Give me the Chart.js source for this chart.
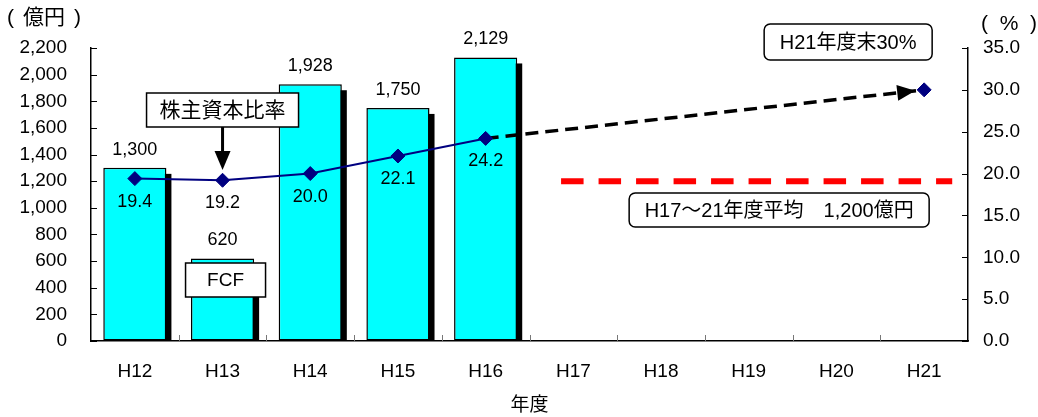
<!DOCTYPE html>
<html>
<head>
<meta charset="utf-8">
<script src="https://cdn.jsdelivr.net/npm/chart.js@4/dist/chart.umd.min.js"></script>
<style>
  html, body { margin: 0; padding: 0; background: #ffffff; }
  canvas { display: block; }
</style>
</head>
<body>
<canvas id="chart" width="1038" height="417"></canvas>
<script>
// Fiscal years (Heisei)
const years = ['H12', 'H13', 'H14', 'H15', 'H16', 'H17', 'H18', 'H19', 'H20', 'H21'];
// Free cash flow, 100 million yen
const fcf = [1300, 620, 1928, 1750, 2129, null, null, null, null, null];
// Shareholders' equity ratio, %
const equityRatio = [19.4, 19.2, 20.0, 22.1, 24.2, null, null, null, null, null];
// Target path toward the H21 year-end goal
const ratioPath = [null, null, null, null, 24.2, null, null, null, null, 30.0];
const ratioTarget = [null, null, null, null, null, null, null, null, null, 30.0];
// Planned H17-21 average FCF, 100 million yen
const fcfPlanAverage = 1200;
// Axis ticks
const leftTicks = [0, 200, 400, 600, 800, 1000, 1200, 1400, 1600, 1800, 2000, 2200];
const rightTicks = [0, 5, 10, 15, 20, 25, 30, 35];

const FONT = "'Liberation Sans', Arial, 'Noto Sans CJK JP', sans-serif";
Chart.defaults.font.family = FONT;
Chart.defaults.color = '#000';

const NAVY = '#000080';

function roundRect(ctx, x, y, w, h, r) {
  ctx.beginPath();
  ctx.moveTo(x + r, y);
  ctx.lineTo(x + w - r, y);
  ctx.arcTo(x + w, y, x + w, y + r, r);
  ctx.lineTo(x + w, y + h - r);
  ctx.arcTo(x + w, y + h, x + w - r, y + h, r);
  ctx.lineTo(x + r, y + h);
  ctx.arcTo(x, y + h, x, y + h - r, r);
  ctx.lineTo(x, y + r);
  ctx.arcTo(x, y, x + r, y, r);
  ctx.closePath();
}

function textBox(ctx, text, x, y, w, h, radius, size) {
  ctx.save();
  if (radius > 0) roundRect(ctx, x, y, w, h, radius);
  else { ctx.beginPath(); ctx.rect(x, y, w, h); }
  ctx.fillStyle = '#fff';
  ctx.fill();
  ctx.lineWidth = 1.5;
  ctx.strokeStyle = '#000';
  ctx.stroke();
  ctx.fillStyle = '#000';
  ctx.font = size + 'px ' + FONT;
  ctx.textAlign = 'center';
  ctx.textBaseline = 'middle';
  ctx.fillText(text, x + w / 2, y + h / 2 + 1);
  ctx.restore();
}

// Black drop shadow behind each bar
const barShadow = {
  id: 'barShadow',
  beforeDatasetsDraw(chart) {
    const { ctx, chartArea } = chart;
    const meta = chart.getDatasetMeta(0);
    ctx.save();
    ctx.beginPath();
    ctx.rect(chartArea.left, chartArea.top, chartArea.right - chartArea.left, chartArea.bottom - chartArea.top);
    ctx.clip();
    ctx.fillStyle = '#000';
    meta.data.forEach((el, i) => {
      if (fcf[i] == null) return;
      const p = el.getProps(['x', 'y', 'base', 'width'], true);
      ctx.fillRect(p.x - p.width / 2 + 5, p.y + 6, p.width, p.base - p.y - 6);
    });
    ctx.restore();
  }
};

// Tick marks drawn inward from each axis line
const innerTicks = {
  id: 'innerTicks',
  afterDraw(chart) {
    const { ctx, chartArea, scales } = chart;
    ctx.save();
    ctx.strokeStyle = '#000';
    ctx.lineWidth = 1;
    ctx.beginPath();
    leftTicks.forEach(v => {
      const y = Math.round(scales.y.getPixelForValue(v)) + 0.5;
      ctx.moveTo(chartArea.left, y); ctx.lineTo(chartArea.left + 6, y);
    });
    rightTicks.forEach(v => {
      const y = Math.round(scales.y1.getPixelForValue(v)) + 0.5;
      ctx.moveTo(chartArea.right - 6, y); ctx.lineTo(chartArea.right, y);
    });
    ctx.stroke();
    ctx.strokeStyle = '#777';
    ctx.beginPath();
    const cw = scales.x.getPixelForValue(1) - scales.x.getPixelForValue(0);
    for (let i = 1; i < years.length; i++) {
      const x = Math.round(scales.x.getPixelForValue(i) - cw / 2) + 0.5;
      ctx.moveTo(x, chartArea.bottom); ctx.lineTo(x, chartArea.bottom - 6);
    }
    ctx.stroke();
    ctx.restore();
  }
};

// Value labels, plan line, arrows and callouts
const annotations = {
  id: 'annotations',
  afterDatasetsDraw(chart) {
    const { ctx, chartArea, scales } = chart;
    const xs = scales.x, yl = scales.y;
    const cw = xs.getPixelForValue(1) - xs.getPixelForValue(0);
    ctx.save();

    // planned average FCF (dashed red)
    const yPlan = yl.getPixelForValue(fcfPlanAverage);
    ctx.strokeStyle = '#ff0000';
    ctx.lineWidth = 6;
    ctx.setLineDash([22.5, 15]);
    ctx.beginPath();
    ctx.moveTo(xs.getPixelForValue(5) - cw * 0.14, yPlan);
    ctx.lineTo(xs.getPixelForValue(9) + cw * 0.32, yPlan);
    ctx.stroke();
    ctx.setLineDash([]);

    // arrow head on the target path
    const pm = chart.getDatasetMeta(2).data;
    const a = pm[4].getProps(['x', 'y'], true), b = pm[9].getProps(['x', 'y'], true);
    const dx = b.x - a.x, dy = b.y - a.y, len = Math.hypot(dx, dy);
    const ux = dx / len, uy = dy / len;
    const tx = b.x - ux * 9, ty = b.y - uy * 9;
    const bx = tx - ux * 18, by = ty - uy * 18;
    ctx.fillStyle = '#000';
    ctx.beginPath();
    ctx.moveTo(tx, ty);
    ctx.lineTo(bx - uy * 8, by + ux * 8);
    ctx.lineTo(bx + uy * 8, by - ux * 8);
    ctx.closePath();
    ctx.fill();

    // bar values
    ctx.font = '18px ' + FONT;
    ctx.textAlign = 'center';
    ctx.textBaseline = 'middle';
    ctx.fillStyle = '#000';
    chart.getDatasetMeta(0).data.forEach((el, i) => {
      if (fcf[i] == null) return;
      const p = el.getProps(['x', 'y'], true);
      ctx.fillText(fcf[i].toLocaleString('en-US'), p.x, p.y - 18);
    });
    // ratio values
    chart.getDatasetMeta(1).data.forEach((el, i) => {
      if (equityRatio[i] == null) return;
      const p = el.getProps(['x', 'y'], true);
      ctx.fillText(equityRatio[i].toFixed(1), p.x, p.y + 23);
    });

    // unit labels
    ctx.font = '21px ' + FONT;
    ctx.textAlign = 'left';
    ctx.fillText('(', 7, 18);
    ctx.fillText('億円', 23, 18);
    ctx.fillText(')', 74, 18);
    ctx.fillText('(', 981, 24);
    ctx.textAlign = 'center';
    ctx.fillText('%', 1009, 24);
    ctx.textAlign = 'left';
    ctx.fillText(')', 1030, 24);

    // callout: shareholders' equity ratio with down arrow
    const x13 = xs.getPixelForValue(1);
    textBox(ctx, '株主資本比率', x13 - 76, chartArea.top + 45, 152, 34, 0, 21);
    ctx.fillStyle = '#000';
    ctx.fillRect(x13 - 1.5, chartArea.top + 79, 3, 26);
    ctx.beginPath();
    ctx.moveTo(x13 - 8, chartArea.top + 103);
    ctx.lineTo(x13 + 8, chartArea.top + 103);
    ctx.lineTo(x13, chartArea.top + 122);
    ctx.closePath();
    ctx.fill();

    // callout: FCF
    textBox(ctx, 'FCF', x13 - 37, chartArea.top + 215, 80, 34, 0, 19);

    // callouts on the plan side
    const x21 = xs.getPixelForValue(9);
    textBox(ctx, 'H21年度末30%', x21 - 160, 24, 168, 36, 6, 20);
    textBox(ctx, 'H17～21年度平均　1,200億円', x21 - 295, chartArea.top + 145, 300, 34, 6, 20);

    ctx.restore();
  }
};

new Chart(document.getElementById('chart'), {
  type: 'bar',
  data: {
    labels: years,
    datasets: [
      {
        type: 'bar',
        label: 'FCF',
        data: fcf,
        yAxisID: 'y',
        backgroundColor: '#00ffff',
        borderColor: '#000',
        borderWidth: 1.5,
        borderSkipped: false,
        barPercentage: 0.72,
        categoryPercentage: 1,
        order: 4
      },
      {
        type: 'line',
        label: '株主資本比率',
        data: equityRatio,
        yAxisID: 'y1',
        borderColor: NAVY,
        borderWidth: 2,
        pointStyle: 'rectRot',
        pointRadius: 7,
        pointBackgroundColor: NAVY,
        pointBorderColor: NAVY,
        pointBorderWidth: 1,
        spanGaps: false,
        tension: 0,
        order: 2
      },
      {
        type: 'line',
        label: '目標',
        data: ratioPath,
        yAxisID: 'y1',
        borderColor: '#000',
        borderWidth: 3.5,
        borderDash: [13, 7],
        pointRadius: 0,
        spanGaps: true,
        tension: 0,
        order: 3
      },
      {
        type: 'line',
        label: 'H21年度末',
        data: ratioTarget,
        yAxisID: 'y1',
        showLine: false,
        pointStyle: 'rectRot',
        pointRadius: 7,
        pointBackgroundColor: NAVY,
        pointBorderColor: NAVY,
        pointBorderWidth: 1,
        order: 1
      }
    ]
  },
  options: {
    responsive: false,
    animation: false,
    devicePixelRatio: 1,
    layout: { padding: { top: 48, left: 0, right: 0, bottom: 0 } },
    plugins: {
      legend: { display: false },
      tooltip: { enabled: false }
    },
    scales: {
      x: {
        type: 'category',
        offset: true,
        grid: { drawOnChartArea: false, drawTicks: false },
        border: { display: true, color: '#000', width: 1.5 },
        ticks: { font: { size: 19 }, padding: 19, maxRotation: 0, autoSkip: false, color: '#000' },
        title: { display: true, text: '年度', font: { size: 19, family: FONT }, color: '#000', padding: { top: 0, bottom: 0 } },
        afterFit(s) { s.height = 76; }
      },
      y: {
        position: 'left',
        min: 0,
        max: 2200,
        grid: { drawOnChartArea: false, drawTicks: false },
        border: { display: true, color: '#000', width: 1.5 },
        afterBuildTicks(s) { s.ticks = leftTicks.map(v => ({ value: v })); },
        ticks: {
          font: { size: 19 },
          padding: 24,
          color: '#000',
          callback: v => v.toLocaleString('en-US')
        },
        afterFit(s) { s.width = 91; }
      },
      y1: {
        position: 'right',
        min: 0,
        max: 35,
        grid: { drawOnChartArea: false, drawTicks: false },
        border: { display: true, color: '#000', width: 1.5 },
        afterBuildTicks(s) { s.ticks = rightTicks.map(v => ({ value: v })); },
        ticks: {
          font: { size: 19 },
          padding: 15,
          color: '#000',
          callback: v => Number(v).toFixed(1)
        },
        afterFit(s) { s.width = 70; }
      }
    }
  },
  plugins: [barShadow, innerTicks, annotations]
});
</script>
</body>
</html>
